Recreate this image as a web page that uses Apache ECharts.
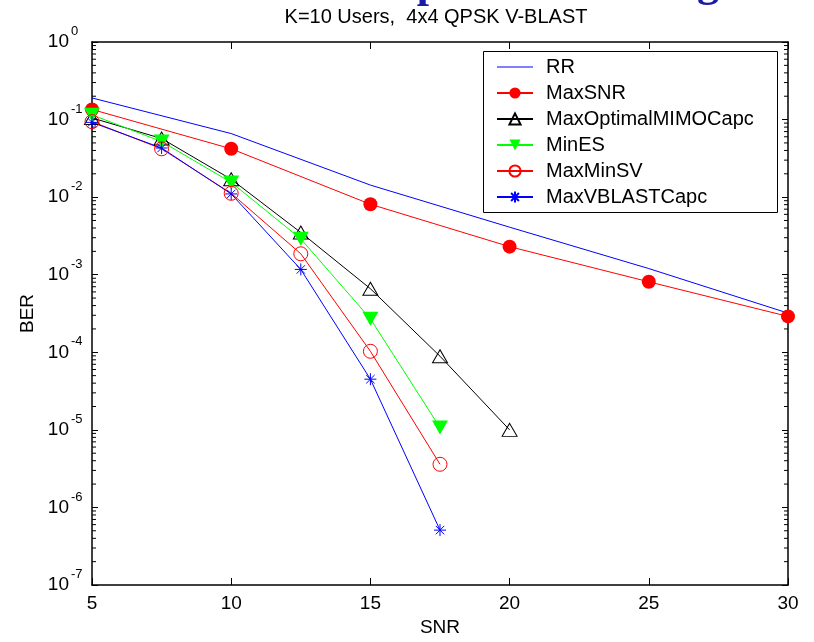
<!DOCTYPE html>
<html>
<head>
<meta charset="utf-8">
<script src="https://cdn.jsdelivr.net/npm/echarts@6/dist/echarts.min.js"></script>
<style>html,body{margin:0;padding:0;background:#fff}#c{width:814px;height:642px}</style>
</head>
<body>
<div id="c"></div>
<script>
// ---- data ----
const snrCoarse = [5, 10, 15, 20, 25, 30];
const snrFine = [5, 7.5, 10, 12.5, 15, 17.5, 20];
const rr = [0.19, 0.066, 0.0143, 0.0041, 0.0012, 0.00032];
const maxSNR = [0.135, 0.042, 0.0081, 0.0023, 0.00081, 0.00029];
const maxOptimalMIMOCapc = [0.105, 0.057, 0.017, 0.0035, 0.00066, 0.000089, 0.00001];
const minES = [0.115, 0.052, 0.0155, 0.0029, 0.00027, 0.0000107];
const maxMinSV = [0.094, 0.042, 0.0112, 0.00186, 0.000103, 0.0000036];
const maxVBLASTCapc = [0.092, 0.043, 0.011, 0.00117, 0.000045, 0.00000051];
const seriesNames = ['RR', 'MaxSNR', 'MaxOptimalMIMOCapc', 'MinES', 'MaxMinSV', 'MaxVBLASTCapc'];

function zip(xs, ys) { return ys.map((v, i) => [xs[i], v]); }

const minorVals = [];
for (let k = -7; k < 0; k++) for (let m = 2; m <= 9; m++) minorVals.push([5, m * Math.pow(10, k)]);

const font = 'Liberation Sans, Arial, sans-serif';
const star = 'path://M0,-6L0,6M-6,0L6,0M-4.2,-4.2L4.2,4.2M-4.2,4.2L4.2,-4.2';

const chart = echarts.init(document.getElementById('c'), null, { renderer: 'canvas' });

const axisLine = { show: true, lineStyle: { color: '#000', width: 1.5 } };
const exp10 = v => Math.round(Math.log10(v));

const option = {
  backgroundColor: '#fff',
  animation: false,
  grid: { left: 92, right: 26, top: 42, bottom: 54, containLabel: false },
  xAxis: [
    {
      type: 'value', min: 5, max: 30, interval: 5, position: 'bottom',
      name: 'SNR', nameLocation: 'middle', nameGap: 33,
      nameTextStyle: { fontSize: 19, color: '#000', fontFamily: font },
      axisLine: axisLine,
      axisTick: { show: true, inside: true, length: 7, lineStyle: { color: '#000' } },
      axisLabel: { show: true, fontSize: 19, color: '#000', fontFamily: font, margin: 9 },
      splitLine: { show: false }
    },
    {
      type: 'value', min: 5, max: 30, interval: 5, position: 'top',
      axisLine: axisLine,
      axisTick: { show: true, inside: true, length: 7, lineStyle: { color: '#000' } },
      axisLabel: { show: false }, splitLine: { show: false }
    }
  ],
  yAxis: [
    {
      type: 'log', logBase: 10, min: 1e-7, max: 1, position: 'left',
      name: 'BER', nameLocation: 'middle', nameGap: 52, nameRotate: 90,
      nameTextStyle: { fontSize: 19, color: '#000', fontFamily: font },
      axisLine: axisLine,
      axisTick: { show: true, inside: true, length: 6, lineStyle: { color: '#000' } },
      axisLabel: {
        show: true, margin: 23, fontSize: 19, fontFamily: font, color: '#000', align: 'right',
        formatter: function () { return '10'; }
      },
      splitLine: { show: false }
    },
    {
      type: 'log', logBase: 10, min: 1e-7, max: 1, position: 'right',
      axisLine: axisLine,
      axisTick: { show: true, inside: true, length: 6, lineStyle: { color: '#000' } },
      axisLabel: { show: false }, splitLine: { show: false }
    },
    {
      type: 'log', logBase: 10, min: 1e-7, max: 1, position: 'left',
      axisLine: { show: false }, axisTick: { show: false }, splitLine: { show: false },
      axisLabel: {
        show: true, margin: 21, fontSize: 13, fontFamily: font, color: '#000', align: 'left',
        verticalAlign: 'bottom', padding: [0, 0, 4, 0],
        formatter: function (v) { return String(exp10(v)); }
      }
    }
  ],
  legend: {
    data: [
      { name: 'RR', icon: 'path://M0,0L36,0L36,1L0,1Z' },
      'MaxSNR', 'MaxOptimalMIMOCapc', 'MinES', 'MaxMinSV', 'MaxVBLASTCapc'
    ],
    orient: 'vertical', left: 496, top: 57,
    itemWidth: 36, itemHeight: 14, itemGap: 6, padding: 0,
    textStyle: { fontSize: 20, color: '#000', fontFamily: font, padding: [0, 0, 0, 8] },
    z: 5
  },
  graphic: [
    { type: 'rect', z: 4, shape: { x: 483.5, y: 51.5, width: 294, height: 161 },
      style: { fill: '#fff', stroke: '#000', lineWidth: 1 } },
    { type: 'text', x: 436, y: 7, style: { text: 'K=10 Users,  4x4 QPSK V-BLAST', fill: '#000', font: '20px ' + font, textAlign: 'center' }, z: 5 },
    { type: 'text', x: 429, y: 8, style: { text: 'p', fill: '#1a1aa8', font: 'bold 44px Liberation Serif, serif', textAlign: 'center', textVerticalAlign: 'bottom' }, z: 5 },
    { type: 'text', x: 708, y: 7, style: { text: 'g', fill: '#1a1aa8', font: 'bold 44px Liberation Serif, serif', textAlign: 'center', textVerticalAlign: 'bottom' }, z: 5 }
  ],
  series: [
    {
      name: 'RR', type: 'line', data: zip(snrCoarse, rr), symbol: 'none',
      lineStyle: { color: '#0000ff', width: 1 }, itemStyle: { color: '#0000ff' }
    },
    {
      name: 'MaxSNR', type: 'line', data: zip(snrCoarse, maxSNR), symbol: 'circle', symbolSize: 14,
      lineStyle: { color: '#ff0000', width: 1 }, itemStyle: { color: '#ff0000' }
    },
    {
      name: 'MaxOptimalMIMOCapc', type: 'line', data: zip(snrFine, maxOptimalMIMOCapc), symbol: 'triangle', symbolSize: [15, 13],
      lineStyle: { color: '#000', width: 1 }, itemStyle: { color: 'rgba(0,0,0,0)', borderColor: '#000', borderWidth: 1 }
    },
    {
      name: 'MinES', type: 'line', data: zip(snrFine, minES), symbol: 'triangle', symbolRotate: 180, symbolSize: [16, 14],
      lineStyle: { color: '#00ff00', width: 1 }, itemStyle: { color: '#00ff00' }
    },
    {
      name: 'MaxMinSV', type: 'line', data: zip(snrFine, maxMinSV), symbol: 'circle', symbolSize: 14,
      lineStyle: { color: '#ff0000', width: 1 }, itemStyle: { color: 'rgba(0,0,0,0)', borderColor: '#ff0000', borderWidth: 1 }
    },
    {
      name: 'MaxVBLASTCapc', type: 'line', data: zip(snrFine, maxVBLASTCapc), symbol: star, symbolSize: 12,
      lineStyle: { color: '#0000ff', width: 1 }, itemStyle: { color: 'rgba(0,0,0,0)', borderColor: '#0000ff', borderWidth: 1 }
    },
    {
      name: 'minorTicks', type: 'custom', data: minorVals, silent: true, clip: false,
      renderItem: function (params, api) {
        const v = api.value(1);
        const l = api.coord([5, v]);
        const r = api.coord([30, v]);
        return {
          type: 'group', children: [
            { type: 'line', shape: { x1: l[0], y1: l[1], x2: l[0] + 4, y2: l[1] }, style: { stroke: '#000', lineWidth: 1 } },
            { type: 'line', shape: { x1: r[0], y1: r[1], x2: r[0] - 4, y2: r[1] }, style: { stroke: '#000', lineWidth: 1 } }
          ]
        };
      }
    }
  ]
};
chart.setOption(option);
</script>
</body>
</html>
